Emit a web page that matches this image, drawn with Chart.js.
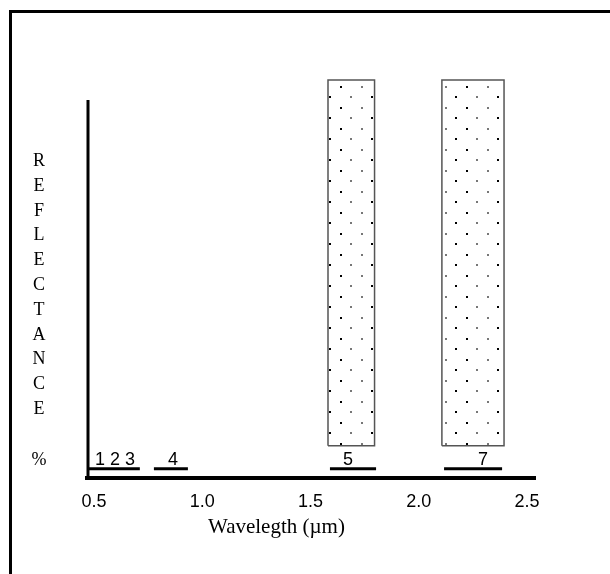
<!DOCTYPE html>
<html>
<head>
<meta charset="utf-8">
<script src="https://cdn.jsdelivr.net/npm/chart.js@4.4.1/dist/chart.umd.min.js"></script>
<style>
  html, body { margin: 0; padding: 0; background: #fff; }
  #wrap { position: relative; width: 610px; height: 574px; overflow: hidden; }
  #frame { position: absolute; left: 9px; top: 10px; right: 0; bottom: 0; border-top: 3px solid #000; border-left: 3px solid #000; }
  #grafico { position: absolute; left: 0; top: 0; }
</style>
</head>
<body>
<div id="wrap">
  <div id="frame"></div>
  <canvas id="grafico" width="610" height="574"></canvas>
</div>
<script>
// ==========================================
// BANDAS ESPECTRAIS (comprimento de onda em µm)
// ==========================================

const bandNames  = ['1 2 3', '4', '5', '7'];
const bandFrom   = [0.472, 0.777, 1.590, 2.117];
const bandTo     = [0.712, 0.934, 1.803, 2.385];
const labelAt    = [0.597, 0.865, 1.673, 2.297];

// caixas pontilhadas (bandas 5 e 7)
const boxFrom    = [1.581, 2.107];
const boxTo      = [1.796, 2.394];
const boxTop     = 100;
const boxBottom  = 8.2;

const bandLevel  = 2.4;   // altura das linhas das bandas
const labelLevel = 3.3;   // linha de base dos números

const xTicks     = [0.5, 1.0, 1.5, 2.0, 2.5];
const xMin = 0.468, xMax = 2.537;
const yAxisTop   = 95;

const yTitle = ['R', 'E', 'F', 'L', 'E', 'C', 'T', 'A', 'N', 'C', 'E'];
const xTitle = 'Wavelegth (\u00b5m)';
const titleAt = 1.343;

function padraoPontos() {
    let c = document.createElement('canvas');
    c.width = 42; c.height = 21;
    let g = c.getContext('2d');
    g.fillStyle = '#000';
    g.fillRect(4, 2, 2, 2);
    g.fillRect(35, 12, 2, 2);
    g.fillStyle = '#777';
    g.fillRect(25, 2, 2, 2);
    g.fillRect(14, 12, 2, 2);
    return g.createPattern(c, 'repeat');
}

let datasets = [];
let pattern = padraoPontos();

boxFrom.forEach((x0, i) => {
    let x1 = boxTo[i];
    datasets.push({
        data: [{ x: x0, y: boxTop }, { x: x1, y: boxTop }],
        borderWidth: 0,
        pointRadius: 0,
        backgroundColor: pattern,
        fill: { value: boxBottom },
        clip: false
    });
    datasets.push({
        data: [
            { x: x0, y: boxBottom }, { x: x0, y: boxTop },
            { x: x1, y: boxTop }, { x: x1, y: boxBottom }, { x: x0, y: boxBottom }
        ],
        borderColor: '#555',
        borderWidth: 1.5,
        pointRadius: 0,
        fill: false,
        clip: false
    });
});

bandFrom.forEach((x0, i) => {
    datasets.push({
        data: [{ x: x0, y: bandLevel }, { x: bandTo[i], y: bandLevel }],
        borderColor: '#000',
        borderWidth: 3,
        pointRadius: 0,
        fill: false,
        clip: false
    });
});

const textosPlugin = {
    id: 'textos',
    afterDraw(chart) {
        const { ctx, chartArea, scales: { x, y } } = chart;
        ctx.save();

        // eixo Y (mais curto que a área do gráfico)
        ctx.strokeStyle = '#000';
        ctx.lineWidth = 3;
        ctx.beginPath();
        ctx.moveTo(chartArea.left + 1, y.getPixelForValue(0));
        ctx.lineTo(chartArea.left + 1, y.getPixelForValue(yAxisTop));
        ctx.stroke();

        // números das bandas
        ctx.fillStyle = '#000';
        ctx.font = '18px "Liberation Sans", Arial, sans-serif';
        ctx.textAlign = 'center';
        ctx.textBaseline = 'alphabetic';
        bandNames.forEach((nome, i) => {
            ctx.fillText(nome, x.getPixelForValue(labelAt[i]), y.getPixelForValue(labelLevel));
        });

        // título vertical, letra por letra
        ctx.font = '18px "Liberation Serif", "Times New Roman", serif';
        yTitle.forEach((letra, i) => {
            ctx.fillText(letra, 39, 166 + i * 24.8);
        });
        ctx.fillText('%', 39, y.getPixelForValue(labelLevel));

        // título do eixo X
        ctx.font = '21px "Liberation Serif", "Times New Roman", serif';
        ctx.fillText(xTitle, x.getPixelForValue(titleAt), 533);

        ctx.restore();
    }
};

new Chart(document.getElementById('grafico'), {
    type: 'line',
    data: { datasets: datasets },
    plugins: [textosPlugin],
    options: {
        responsive: false,
        animation: false,
        layout: { padding: { left: 87, right: 75, top: 80, bottom: 56 } },
        plugins: { legend: { display: false }, tooltip: { enabled: false } },
        scales: {
            x: {
                type: 'linear',
                min: xMin,
                max: xMax,
                grid: { display: false },
                border: { display: true, color: '#000', width: 4 },
                afterBuildTicks: s => { s.ticks = xTicks.map(v => ({ value: v })); },
                ticks: {
                    color: '#000',
                    padding: 5,
                    maxRotation: 0,
                    font: { family: '"Liberation Sans", Arial, sans-serif', size: 18 },
                    callback: v => Number(v).toFixed(1)
                }
            },
            y: {
                type: 'linear',
                display: false,
                min: 0,
                max: 100
            }
        }
    }
});
</script>
</body>
</html>
